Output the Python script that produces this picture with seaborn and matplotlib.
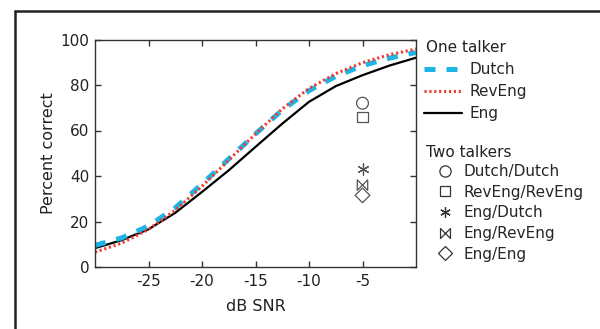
import numpy as np
import pandas as pd
import matplotlib
matplotlib.use("Agg")
import matplotlib.pyplot as plt
from matplotlib.lines import Line2D
from matplotlib.path import Path
import seaborn as sns

# ---- data ----
snr = [-30, -27.5, -25, -22.5, -20, -17.5, -15, -12.5, -10, -7.5, -5, -2.5, 0]
dutch = [9.5, 12.8, 18.0, 26.0, 36.5, 47.5, 58.5, 69.0, 77.5, 83.8, 88.5, 91.8, 94.3]
reveng = [6.5, 10.5, 16.5, 25.0, 35.5, 47.0, 58.5, 69.5, 78.5, 85.0, 89.8, 93.3, 95.8]
eng = [8.3, 11.8, 16.6, 23.8, 33.0, 42.5, 52.8, 63.0, 72.6, 79.5, 84.3, 88.5, 92.0]

two_conditions = ["Dutch/Dutch", "RevEng/RevEng", "Eng/Dutch", "Eng/RevEng", "Eng/Eng"]
two_snr = [-5, -5, -5, -5, -5]
two_values = [72, 66, 43, 36, 31.5]

xticks = [-25, -20, -15, -10, -5]
yticks = [0, 20, 40, 60, 80, 100]

sns.set_theme(style="white")
plt.rcParams["font.family"] = ["DejaVu Sans"]
plt.rcParams["axes.unicode_minus"] = False

fig = plt.figure(figsize=(6.0, 3.29), dpi=100)
ax = fig.add_axes([95 / 600, 1 - 267 / 329, (416 - 95) / 600, (267 - 39.5) / 329])

df_one = pd.DataFrame({"snr": snr, "Dutch": dutch, "RevEng": reveng, "Eng": eng})

sns.lineplot(data=df_one, x="snr", y="Eng", ax=ax, color="black", linewidth=1.6, legend=False)
sns.lineplot(data=df_one, x="snr", y="Dutch", ax=ax, color="#1fb4e6", linewidth=3.6,
             legend=False).lines[-1].set_dashes([2.2, 2.2])
sns.lineplot(data=df_one, x="snr", y="RevEng", ax=ax, color="#f03a2e", linewidth=2.2,
             legend=False).lines[-1].set_dashes([0.7, 0.9])

bowtie = Path([(-1, 1), (-1, -1), (1, 1), (1, -1), (-1, 1)],
              [Path.MOVETO, Path.LINETO, Path.LINETO, Path.LINETO, Path.CLOSEPOLY])
marker_map = {"Dutch/Dutch": "o", "RevEng/RevEng": "s", "Eng/Dutch": (6, 2, 0),
              "Eng/RevEng": bowtie, "Eng/Eng": "D"}
sizes = {"Dutch/Dutch": 8.5, "RevEng/RevEng": 7.5, "Eng/Dutch": 8.0,
         "Eng/RevEng": 7.5, "Eng/Eng": 7.5}
gray = "#555555"
df_two = pd.DataFrame({"snr": two_snr, "pc": two_values, "cond": two_conditions})
for cond in two_conditions:
    sub = df_two[df_two["cond"] == cond]
    if cond == "Eng/Dutch":
        sns.scatterplot(data=sub, x="snr", y="pc", ax=ax, marker=marker_map[cond],
                        s=sizes[cond] ** 2, color=gray, linewidth=0.9, legend=False)
    else:
        sns.scatterplot(data=sub, x="snr", y="pc", ax=ax, marker=marker_map[cond],
                        s=sizes[cond] ** 2, facecolor="none", edgecolor=gray, linewidth=0.9,
                        legend=False)

ax.set_xlim(-30, 0)
ax.set_ylim(0, 100)
ax.set_xticks(xticks)
ax.set_yticks(yticks)
ax.tick_params(direction="in", length=4, width=1, colors="#333333", top=True, right=True,
               labelsize=11, labelcolor="#222222", pad=5, bottom=True, left=True)
ax.tick_params(axis="y", pad=4)
for s in ax.spines.values():
    s.set_color("#333333")
    s.set_linewidth(1.0)
ax.set_xlabel("dB SNR", fontsize=11.5, color="#222222", labelpad=7)
ax.set_ylabel("Percent correct", fontsize=11.5, color="#222222", labelpad=3)

# legends
h1 = [Line2D([], [], color="#1fb4e6", linewidth=3.6, dashes=[2.2, 2.2]),
      Line2D([], [], color="#f03a2e", linewidth=2.2, dashes=[0.7, 0.9]),
      Line2D([], [], color="black", linewidth=1.6)]
fig.legend(h1, ["Dutch", "RevEng", "Eng"], loc="upper left",
           bbox_to_anchor=(424 / 600, 1 - 62 / 329), frameon=False, fontsize=11,
           handlelength=2.5, handletextpad=0.5, labelspacing=0.47, borderpad=0,
           borderaxespad=0)
h2 = [Line2D([], [], linestyle="none", marker=marker_map[c], markersize=sizes[c] * 0.95,
             markerfacecolor="none", markeredgecolor="#333333", markeredgewidth=0.9)
      for c in two_conditions]
fig.legend(h2, two_conditions, loc="upper left",
           bbox_to_anchor=(436 / 600, 1 - 164 / 329), frameon=False, fontsize=11,
           handlelength=1.2, handletextpad=0.6, labelspacing=0.37, borderpad=0,
           borderaxespad=0)
fig.text(426 / 600, 1 - 47 / 329, "One talker", fontsize=11, color="#222222", va="center", ha="left")
fig.text(426 / 600, 1 - 152 / 329, "Two talkers", fontsize=11, color="#222222", va="center", ha="left")

# outer frame
fig.add_artist(Line2D([15 / 600, 15 / 600], [0, 1 - 11 / 329], transform=fig.transFigure,
                      color="#222222", linewidth=1.8))
fig.add_artist(Line2D([15 / 600, 1], [1 - 11 / 329, 1 - 11 / 329], transform=fig.transFigure,
                      color="#222222", linewidth=1.8))

fig.savefig("out.png", dpi=100, facecolor="white")
